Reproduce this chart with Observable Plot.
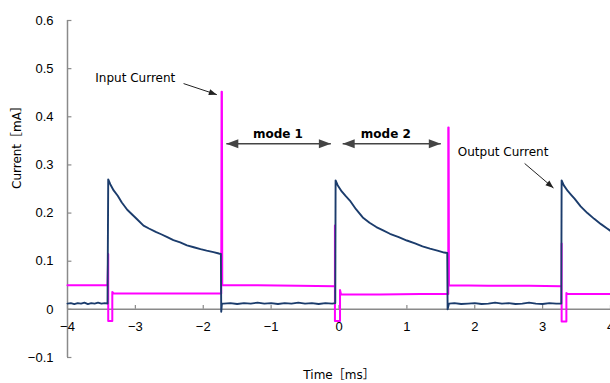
<!DOCTYPE html>
<html>
<head>
<meta charset="utf-8">
<script src="https://cdn.jsdelivr.net/npm/d3@7"></script>
<script src="https://cdn.jsdelivr.net/npm/@observablehq/plot@0.6"></script>
<style>
  html, body { margin: 0; padding: 0; background: #fff; overflow: hidden; }
</style>
</head>
<body>
<div id="chart"></div>
<script>
// Output current (navy) — time [ms], current [mA]
const outT = [
  -4.00, -3.95, -3.90, -3.85, -3.80, -3.75, -3.70, -3.65, -3.60, -3.55, -3.50, -3.45, -3.41,
  -3.40, -3.37, -3.32, -3.26, -3.20, -3.12, -3.04, -2.96, -2.88, -2.80, -2.70, -2.62, -2.53,
  -2.44, -2.34, -2.24, -2.14, -2.04, -1.95, -1.85, -1.77, -1.74,
  -1.735, -1.725, -1.70, -1.60, -1.50, -1.40, -1.30, -1.20, -1.10, -1.00, -0.90, -0.80, -0.70,
  -0.60, -0.50, -0.40, -0.30, -0.20, -0.10, -0.055,
  -0.05, -0.02, 0.04, 0.10, 0.16, 0.25, 0.35, 0.45, 0.55, 0.65, 0.75, 0.88, 1.00, 1.12, 1.23,
  1.34, 1.45, 1.55, 1.595,
  1.60, 1.62, 1.70, 1.80, 1.90, 2.00, 2.10, 2.20, 2.30, 2.40, 2.50, 2.60, 2.70, 2.80, 2.90,
  3.00, 3.10, 3.20, 3.275,
  3.28, 3.31, 3.37, 3.42, 3.47, 3.56, 3.66, 3.76, 3.86, 3.95, 4.00
];
const outI = [
  0.012, 0.013, 0.011, 0.013, 0.012, 0.014, 0.011, 0.013, 0.012, 0.014, 0.012, 0.013, 0.012,
  0.270, 0.260, 0.247, 0.236, 0.222, 0.207, 0.196, 0.185, 0.174, 0.168, 0.161, 0.156, 0.150,
  0.144, 0.139, 0.133, 0.129, 0.125, 0.122, 0.119, 0.116, 0.115,
  -0.005, 0.012, 0.012, 0.013, 0.011, 0.013, 0.012, 0.014, 0.012, 0.013, 0.011, 0.013, 0.012,
  0.014, 0.012, 0.013, 0.011, 0.013, 0.012, 0.013,
  0.268, 0.258, 0.245, 0.235, 0.226, 0.208, 0.191, 0.180, 0.171, 0.164, 0.157, 0.150, 0.143, 0.137, 0.131,
  0.126, 0.122, 0.118, 0.117,
  0.000, 0.012, 0.013, 0.011, 0.012, 0.013, 0.011, 0.012, 0.014, 0.012, 0.013, 0.011, 0.012, 0.014, 0.012,
  0.011, 0.013, 0.012, 0.012,
  0.268, 0.258, 0.246, 0.238, 0.230, 0.214, 0.200, 0.188, 0.177, 0.168, 0.163
];

// Input current (magenta)
const inT = [
  -4.00, -3.70, -3.41, -3.40, -3.40, -3.34, -3.34, -3.32, -2.80, -2.30, -1.735,
  -1.73, -1.725, -1.72, -1.20, -0.60, -0.06,
  -0.06, -0.06, 0.015, 0.015, 0.03, 0.60, 1.20, 1.61,
  1.61, 1.615, 1.62, 2.20, 2.80, 3.28,
  3.28, 3.28, 3.35, 3.35, 3.37, 3.70, 4.00
];
const inI = [
  0.050, 0.050, 0.050, 0.115, -0.024, -0.024, 0.036, 0.033, 0.033, 0.033, 0.033,
  0.452, 0.452, 0.050, 0.050, 0.049, 0.048,
  0.174, -0.024, -0.024, 0.040, 0.031, 0.031, 0.032, 0.032,
  0.378, 0.378, 0.050, 0.049, 0.049, 0.048,
  0.137, -0.025, -0.025, 0.034, 0.032, 0.032, 0.032
];

const xTicks = [-4, -3, -2, -1, 0, 1, 2, 3, 4];
const xTickLabels = ["\u22124", "\u22123", "\u22122", "\u22121", "0", "1", "2", "3", "4"];
const yTicks = [-0.1, 0, 0.1, 0.2, 0.3, 0.4, 0.5, 0.6];
const yTickLabels = ["\u22120.1", "0", "0.1", "0.2", "0.3", "0.4", "0.5", "0.6"];

const outData = outT.map((t, k) => ({t, i: outI[k]}));
const inData = inT.map((t, k) => ({t, i: inI[k]}));

const NAVY = "#1b3c6c";
const MAGENTA = "#ff00ff";
const AXIS = "#8a8a8a";
const tickFont = "Liberation Sans, Arial, sans-serif";
const annFont = "DejaVu Sans, Noto Sans CJK JP, sans-serif";

const svg = Plot.plot({
  width: 610,
  height: 383,
  marginLeft: 67,
  marginRight: 0,
  marginTop: 20,
  marginBottom: 26,
  x: {domain: [-4, 4], axis: null},
  y: {domain: [-0.1, 0.6], axis: null},
  style: {background: "#fff", color: "#000", fontFamily: tickFont},
  marks: [
    // axes lines
    Plot.ruleX([-4], {stroke: AXIS, strokeWidth: 1.5}),
    Plot.ruleY([0], {stroke: AXIS, strokeWidth: 1.5}),
    // inward ticks
    Plot.ruleY(yTicks, {y: d => d, x1: -4, x2: -3.935, stroke: AXIS, strokeWidth: 1.2}),
    Plot.ruleX(xTicks, {x: d => d, y1: 0, y2: 0.008, stroke: AXIS, strokeWidth: 1.2}),
    // tick labels
    Plot.text(yTicks, {y: d => d, frameAnchor: "left", dx: -14, textAnchor: "end",
      text: (d, k) => yTickLabels[k], fontSize: 13, fill: "#000"}),
    Plot.text(xTicks, {x: d => d, y: () => 0, dy: 17,
      text: (d, k) => xTickLabels[k], fontSize: 13, fill: "#000"}),
    // series
    Plot.line(inData, {x: "t", y: "i", stroke: MAGENTA, strokeWidth: 2}),
    Plot.line(outData, {x: "t", y: "i", stroke: NAVY, strokeWidth: 1.9}),
    // annotations
    Plot.text(["Input Current"], {x: -3.59, y: 0.481, textAnchor: "start", fontSize: 12,
      fontFamily: annFont, fill: "#000"}),
    Plot.link([{x1: -2.29, y1: 0.469, x2: -1.80, y2: 0.446}],
      {x1: "x1", y1: "y1", x2: "x2", y2: "y2", stroke: "#222", strokeWidth: 1, markerEnd: "arrow"}),
    Plot.text(["mode 1"], {x: -0.90, y: 0.363, fontSize: 12, fontWeight: "bold",
      fontFamily: annFont, fill: "#000"}),
    Plot.text(["mode 2"], {x: 0.69, y: 0.363, fontSize: 12, fontWeight: "bold",
      fontFamily: annFont, fill: "#000"}),
    Plot.link([{x1: -1.66, x2: -0.12, y: 0.344}, {x1: 0.054, x2: 1.50, y: 0.344}],
      {x1: "x1", x2: "x2", y1: "y", y2: "y", stroke: "#444", strokeWidth: 1.5,
       markerStart: "arrow", markerEnd: "arrow"}),
    Plot.text(["Output Current"], {x: 1.75, y: 0.326, textAnchor: "start", fontSize: 12,
      fontFamily: annFont, fill: "#000"}),
    Plot.link([{x1: 2.735, y1: 0.303, x2: 3.16, y2: 0.252}],
      {x1: "x1", y1: "y1", x2: "x2", y2: "y2", stroke: "#222", strokeWidth: 1, markerEnd: "arrow"}),
    // axis titles
    Plot.text(["Current\uFF3BmA\uFF3D"], {frameAnchor: "left", dx: -50, dy: 0, rotate: -90,
      fontSize: 12, fontFamily: annFont, fill: "#000"}),
    Plot.text(["Time\uFF3Bms\uFF3D"], {frameAnchor: "bottom", dy: 21,
      fontSize: 12, fontFamily: annFont, fill: "#000"})
  ]
});

// filled triangular arrowheads
svg.querySelectorAll("marker").forEach(m => {
  const color = m.getAttribute("stroke") || "#000";
  m.setAttribute("viewBox", "-9 -5 10 10");
  m.setAttribute("markerWidth", 10);
  m.setAttribute("markerHeight", 10);
  m.setAttribute("orient", "auto-start-reverse");
  const p = m.querySelector("path");
  if (p) {
    p.setAttribute("d", "M-8,-3L0,0L-8,3Z");
    p.setAttribute("fill", color);
    p.setAttribute("stroke", "none");
  }
});

document.getElementById("chart").appendChild(svg);
</script>
</body>
</html>
